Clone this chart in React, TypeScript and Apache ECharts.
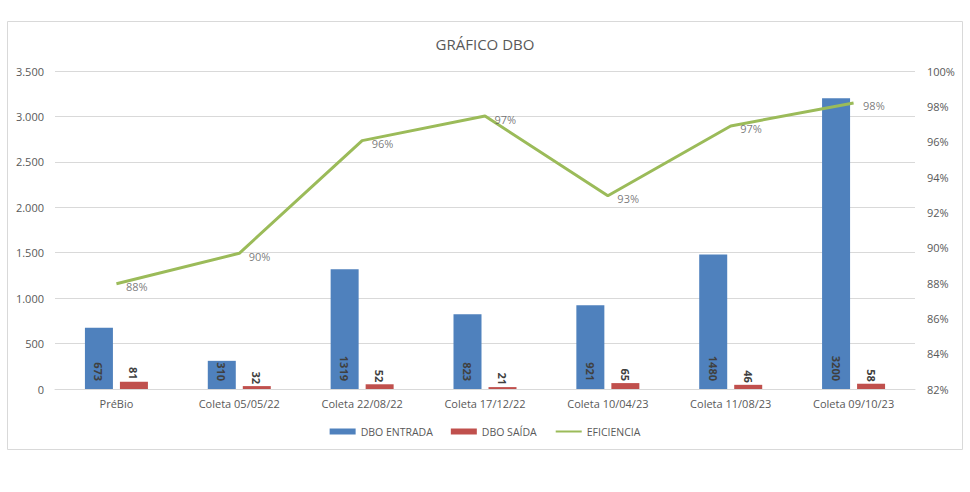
import React, { useEffect, useRef } from "react";
import * as echarts from "echarts";

const categories = ["PréBio", "Coleta 05/05/22", "Coleta 22/08/22", "Coleta 17/12/22", "Coleta 10/04/23", "Coleta 11/08/23", "Coleta 09/10/23"];
const dboEntrada = [673, 310, 1319, 823, 921, 1480, 3200];
const dboSaida = [81, 32, 52, 21, 65, 46, 58];
const eficiencia = [0.8796, 0.8968, 0.9606, 0.9745, 0.9294, 0.9689, 0.9819];

const FONT = "'Open Sans', 'Noto Sans', sans-serif";
const TXT = "#595959";

function fmtThousands(v: number): string {
  const s = String(Math.round(v));
  return s.replace(/\B(?=(\d{3})+(?!\d))/g, ".");
}

export default function App() {
  const ref = useRef<HTMLDivElement>(null);
  useEffect(() => {
    document.body.style.margin = "0";
    const chart = echarts.init(ref.current!, undefined, { renderer: "svg" });
    chart.setOption({
      animation: false,
      textStyle: { fontFamily: FONT },
      title: {
        text: "GRÁFICO DBO",
        left: "center",
        top: 31,
        textStyle: { fontFamily: FONT, fontSize: 15, fontWeight: "normal", color: TXT },
      },
      graphic: [
        {
          type: "rect",
          shape: { x: 7.5, y: 21.5, width: 955, height: 428 },
          style: { fill: "none", stroke: "#d9d9d9", lineWidth: 1 },
          silent: true,
        },
      ],
      legend: {
        left: "center",
        top: 421,
        itemWidth: 26,
        itemHeight: 6,
        itemGap: 18,
        textStyle: { fontFamily: FONT, fontSize: 10.5, color: TXT },
        data: [
          { name: "DBO ENTRADA", icon: "rect" },
          { name: "DBO SAÍDA", icon: "rect" },
          { name: "EFICIENCIA", itemStyle: { opacity: 0 } },
        ],
      },
      grid: { left: 55, right: 55, top: 71, bottom: 103 },
      xAxis: {
        type: "category",
        data: categories,
        axisLine: { lineStyle: { color: "#d9d9d9" } },
        axisTick: { show: false },
        axisLabel: { color: TXT, fontSize: 11, fontFamily: FONT, margin: 9 },
      },
      yAxis: [
        {
          type: "value",
          min: 0,
          max: 3500,
          interval: 500,
          axisLine: { show: false },
          axisTick: { show: false },
          splitLine: { lineStyle: { color: "#d9d9d9" } },
          axisLabel: { color: TXT, fontSize: 11, fontFamily: FONT, margin: 11, formatter: (v: number) => fmtThousands(v) },
        },
        {
          type: "value",
          min: 0.82,
          max: 1.0,
          interval: 0.02,
          axisLine: { show: false },
          axisTick: { show: false },
          splitLine: { show: false },
          axisLabel: {
            color: TXT,
            fontSize: 11,
            fontFamily: FONT,
            margin: 12,
            formatter: (v: number) => Math.round(v * 100) + "%",
          },
        },
      ],
      series: [
        {
          name: "DBO ENTRADA",
          type: "bar",
          data: dboEntrada,
          barWidth: 28,
          barGap: "25%",
          itemStyle: { color: "#4F81BD" },
          label: {
            show: true,
            position: "insideBottom",
            rotate: -90,
            align: "right",
            verticalAlign: "middle",
            distance: 8,
            color: "#404040",
            fontWeight: "bold",
            fontSize: 11,
            fontFamily: FONT,
          },
        },
        {
          name: "DBO SAÍDA",
          type: "bar",
          data: dboSaida,
          barWidth: 28,
          itemStyle: { color: "#C0504D" },
          label: {
            show: true,
            position: "top",
            rotate: -90,
            align: "right",
            verticalAlign: "middle",
            distance: 2,
            color: "#404040",
            fontWeight: "bold",
            fontSize: 11,
            fontFamily: FONT,
          },
        },
        {
          name: "EFICIENCIA",
          type: "line",
          yAxisIndex: 1,
          data: eficiencia,
          symbol: "none",
          lineStyle: { color: "#9BBB59", width: 3 },
          itemStyle: { color: "#9BBB59" },
        },
        {
          name: "EFICIENCIA_LABELS",
          type: "scatter",
          yAxisIndex: 1,
          data: eficiencia,
          symbolSize: 1,
          itemStyle: { color: "rgba(0,0,0,0)" },
          silent: true,
          z: 5,
          label: {
            show: true,
            position: "right",
            distance: 9,
            offset: [0, 3],
            color: "#595959",
            fontSize: 11,
            fontFamily: FONT,
            formatter: (p: any) => Math.round(p.value * 100) + "%",
          },
        },
      ],
    });
    return () => chart.dispose();
  }, []);
  return <div ref={ref} style={{ width: 970, height: 492 }} />;
}
